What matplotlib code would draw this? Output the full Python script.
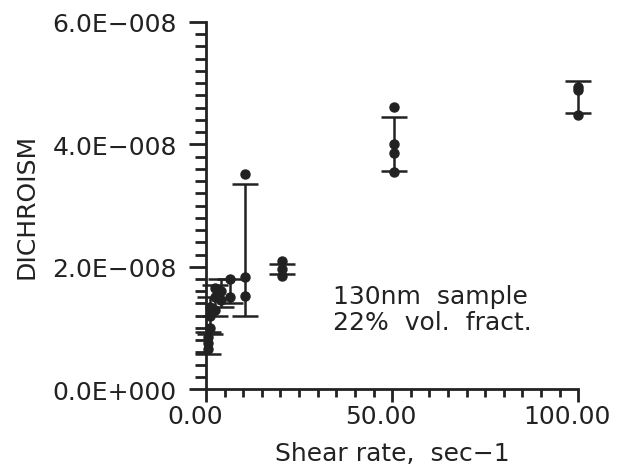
import matplotlib
matplotlib.use("Agg")
import matplotlib.pyplot as plt
from matplotlib.ticker import MultipleLocator, FuncFormatter
from matplotlib.transforms import ScaledTranslation

# error bar centres (shear rate) and low / high ends (units of 1E-8)
bar_x = [0.5, 1.0, 2.5, 4.0, 6.5, 10.5, 20.5, 50.5, 100.0]
bar_lo = [0.57, 0.90, 1.20, 1.35, 1.40, 1.19, 1.88, 3.56, 4.51]
bar_hi = [0.93, 1.50, 1.70, 1.80, 1.80, 3.35, 2.05, 4.44, 5.04]

# individual measurements
pt_x = [0.5, 0.5, 0.5, 1.0, 1.0, 1.0, 2.5, 2.5, 2.5, 4.0, 4.0, 6.5, 6.5,
        10.5, 10.5, 10.5, 20.5, 20.5, 20.5, 50.5, 50.5, 50.5, 50.5,
        100.0, 100.0, 100.0]
pt_y = [0.65, 0.75, 0.85, 1.00, 1.20, 1.35, 1.30, 1.50, 1.65, 1.45, 1.60,
        1.50, 1.80, 1.52, 1.83, 3.51, 1.85, 1.96, 2.10, 3.55, 3.86, 4.00,
        4.61, 4.48, 4.88, 4.93]

scale = 1e-8
ink = "#222222"

plt.rcParams['font.family'] = ['DejaVu Sans']

fig = plt.figure(figsize=(6.17, 4.77), dpi=100)
ax = fig.add_axes([0.334, 0.182, 0.603, 0.770])

mid = [(lo + hi) / 2 * scale for lo, hi in zip(bar_lo, bar_hi)]
half = [(hi - lo) / 2 * scale for lo, hi in zip(bar_lo, bar_hi)]
eb = ax.errorbar(bar_x, mid, yerr=half, fmt='none', ecolor=ink,
                 elinewidth=1.8, capsize=9.5, capthick=1.8)
for art in eb.get_children():
    art.set_clip_on(False)
ax.plot(pt_x, [v * scale for v in pt_y], 'o', color=ink, markersize=6.5,
        clip_on=False)

ax.set_xlim(0, 100)
ax.set_ylim(0, 6e-8)
ax.spines['top'].set_visible(False)
ax.spines['right'].set_visible(False)
for s in ('left', 'bottom'):
    ax.spines[s].set_linewidth(2)
    ax.spines[s].set_color(ink)

ax.xaxis.set_major_locator(MultipleLocator(50))
ax.xaxis.set_minor_locator(MultipleLocator(5))
ax.yaxis.set_major_locator(MultipleLocator(2e-8))
ax.yaxis.set_minor_locator(MultipleLocator(0.2e-8))

ax.xaxis.set_major_formatter(FuncFormatter(lambda v, p: f"{v:.2f}"))


def yfmt(v, p):
    if abs(v) < 1e-12:
        return "0.0E+000"
    return f"{v / 1e-8:.1f}E\u2212008"


ax.yaxis.set_major_formatter(FuncFormatter(yfmt))

ax.tick_params(axis='y', which='major', direction='out', length=12, width=2,
               color=ink, labelsize=18, pad=9, labelcolor=ink)
ax.tick_params(axis='y', which='minor', direction='out', length=8, width=2,
               color=ink)
ax.tick_params(axis='x', which='major', direction='out', length=9, width=2,
               color=ink, labelsize=18, pad=2, labelcolor=ink)
ax.tick_params(axis='x', which='minor', direction='out', length=6, width=2,
               color=ink)

# the old plot puts x labels a little left of their ticks
shift = ScaledTranslation(-8 / 72, 0, fig.dpi_scale_trans)
for lbl in ax.get_xticklabels():
    lbl.set_transform(lbl.get_transform() + shift)

ax.set_xlabel("Shear rate,  sec\u22121", fontsize=18, color=ink, labelpad=9)
ax.set_ylabel("DICHROISM", fontsize=18, color=ink, labelpad=10)

ax.text(34, 1.72e-8, "130nm  sample\n22%  vol.  fract.", fontsize=18,
        color=ink, va='top', ha='left', linespacing=1.12)

fig.savefig("out.png", dpi=100)
